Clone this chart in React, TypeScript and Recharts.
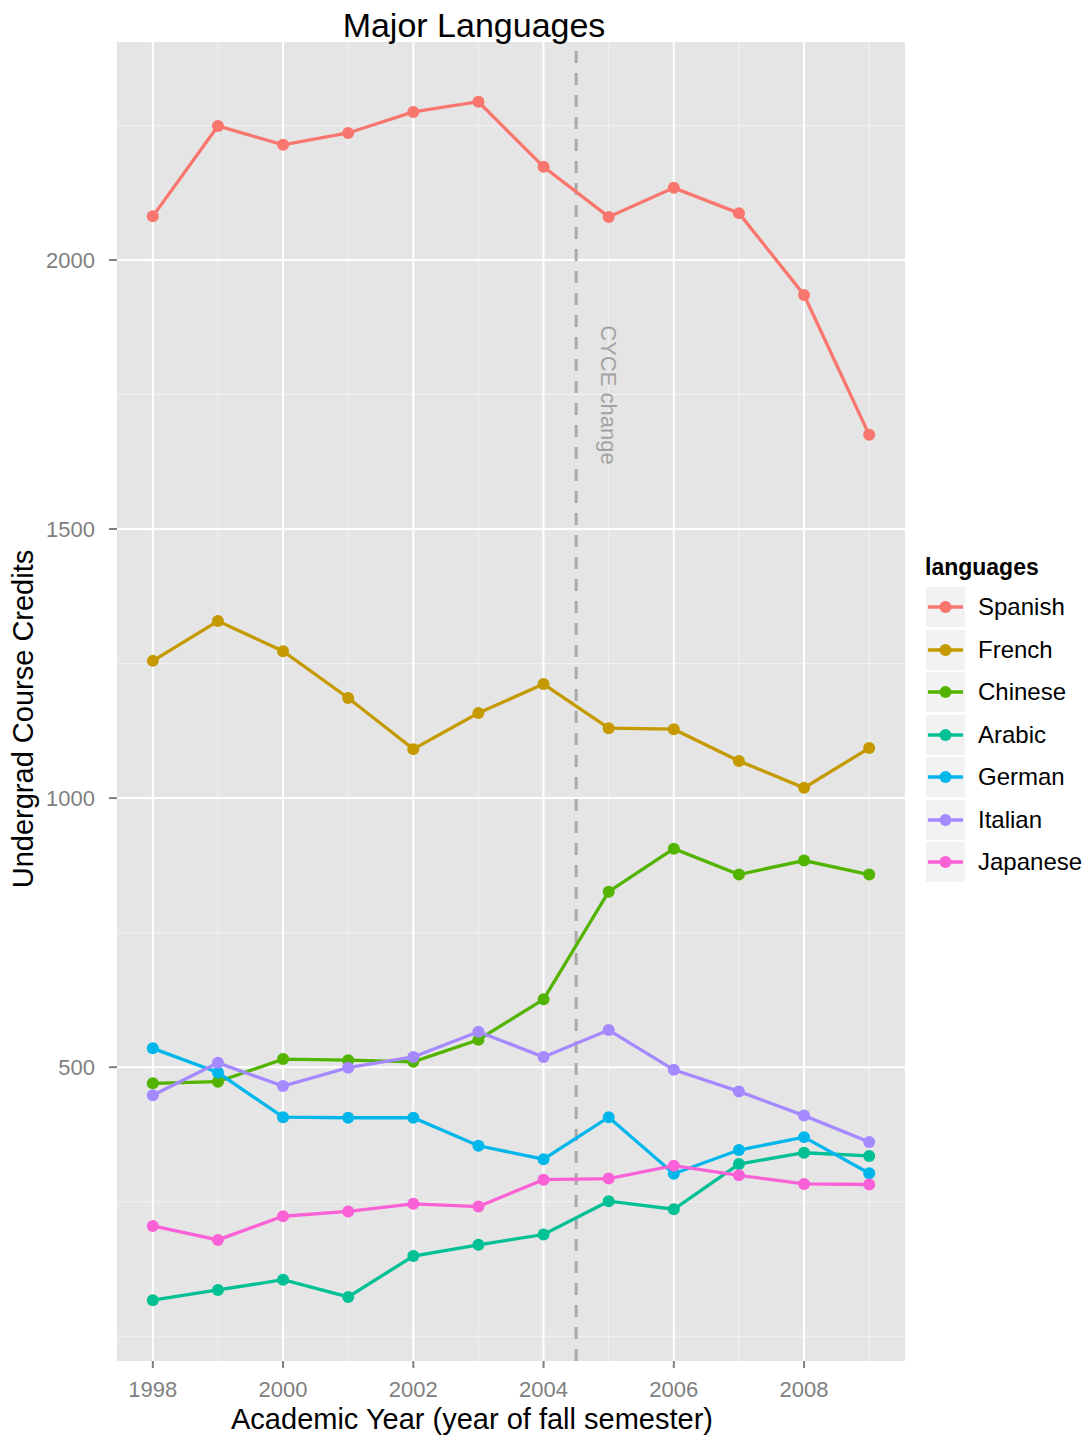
import React from 'react';
import { LineChart, Line, XAxis, YAxis, CartesianGrid, ReferenceLine } from 'recharts';

const years = [1998, 1999, 2000, 2001, 2002, 2003, 2004, 2005, 2006, 2007, 2008, 2009];
const spanish = [2081, 2249, 2214, 2236, 2275, 2294, 2173, 2080, 2134, 2087, 1935, 1675];
const french = [1255, 1329, 1273, 1186, 1091, 1158, 1212, 1130, 1128, 1069, 1019, 1093];
const chinese = [470, 473, 515, 513, 510, 551, 626, 826, 906, 858, 884, 858];
const arabic = [67, 86, 105, 73, 149, 170, 189, 251, 236, 320, 341, 335];
const german = [535, 490, 407, 406, 406, 354, 329, 407, 302, 346, 370, 303];
const italian = [448, 508, 465, 499, 519, 566, 519, 569, 495, 455, 410, 361];
const japanese = [205, 179, 223, 232, 246, 241, 291, 293, 317, 299, 283, 282];

const seriesNames = ['Spanish', 'French', 'Chinese', 'Arabic', 'German', 'Italian', 'Japanese'];
const seriesValues = [spanish, french, chinese, arabic, german, italian, japanese];
const seriesColors = ['#F8766D', '#C49A00', '#53B400', '#00C094', '#00B6EB', '#A58AFF', '#FB61D7'];

const xMajorTicks = [1998, 2000, 2002, 2004, 2006, 2008];
const xMinorTicks = [1999, 2001, 2003, 2005, 2007, 2009];
const yMajorTicks = [500, 1000, 1500, 2000];
const yMinorTicks = [0, 250, 750, 1250, 1750, 2250];
const xDomain = [1997.45, 2009.55];
const yDomain = [-46, 2405];
const cyceYear = 2004.5;

const data = years.map((y, i) => {
  const row: Record<string, number> = { year: y };
  seriesNames.forEach((n, k) => {
    row[n] = seriesValues[k][i];
  });
  return row;
});

const FONT = '"Liberation Sans", Arial, Helvetica, sans-serif';

const CyceLabel = (props: any) => {
  const vb = props.viewBox || {};
  const x = (vb.x || 0) + 32;
  const y = (vb.y || 0) + 353;
  return (
    <text
      transform={`translate(${x}, ${y}) rotate(90)`}
      textAnchor="middle"
      dominantBaseline="central"
      fill="#A3A3A3"
      fontSize={22}
      fontFamily={FONT}
    >
      CYCE change
    </text>
  );
};

export default function App() {
  return (
    <div style={{ position: 'absolute', left: 0, top: 0, width: 1089, height: 1438, background: '#fff', fontFamily: FONT }}>
      <LineChart
        width={1089}
        height={1438}
        data={data}
        margin={{ top: 42, right: 184, bottom: 0, left: 0 }}
      >
        <CartesianGrid fill="#E5E5E5" horizontal={false} vertical={false} />
        {yMinorTicks.map((v) => (
          <ReferenceLine key={'ym' + v} y={v} stroke="#F2F2F2" strokeWidth={1} />
        ))}
        {xMinorTicks.map((v) => (
          <ReferenceLine key={'xm' + v} x={v} stroke="#F2F2F2" strokeWidth={1} />
        ))}
        {yMajorTicks.map((v) => (
          <ReferenceLine key={'yM' + v} y={v} stroke="#FFFFFF" strokeWidth={2} />
        ))}
        {xMajorTicks.map((v) => (
          <ReferenceLine key={'xM' + v} x={v} stroke="#FFFFFF" strokeWidth={2} />
        ))}
        <ReferenceLine
          x={cyceYear}
          stroke="#A9A9A9"
          strokeWidth={3}
          strokeDasharray="12 10"
          label={<CyceLabel />}
        />
        <XAxis
          dataKey="year"
          type="number"
          domain={xDomain}
          ticks={xMajorTicks}
          allowDataOverflow
          axisLine={false}
          height={77}
          tickSize={7}
          tickMargin={13}
          tickLine={{ stroke: '#7F7F7F', strokeWidth: 2 }}
          tick={{ fill: '#7F7F7F', fontSize: 22, fontFamily: FONT }}
        />
        <YAxis
          type="number"
          domain={yDomain}
          ticks={yMajorTicks}
          allowDataOverflow
          axisLine={false}
          width={117}
          tickSize={8}
          tickMargin={14}
          tickLine={{ stroke: '#7F7F7F', strokeWidth: 2 }}
          tick={{ fill: '#7F7F7F', fontSize: 22, fontFamily: FONT }}
        />
        {seriesNames.map((n, k) => (
          <Line
            key={n}
            dataKey={n}
            type="linear"
            stroke={seriesColors[k]}
            strokeWidth={3.3}
            dot={{ r: 6, fill: seriesColors[k], stroke: seriesColors[k], strokeWidth: 0 }}
            activeDot={false}
            isAnimationActive={false}
          />
        ))}
      </LineChart>

      <div style={{ position: 'absolute', left: 0, width: 948, top: 5, textAlign: 'center', fontSize: 34, color: '#000', lineHeight: '40px' }}>
        Major Languages
      </div>
      <div style={{ position: 'absolute', left: 0, width: 944, top: 1402, textAlign: 'center', fontSize: 29, color: '#000', lineHeight: '34px' }}>
        Academic Year (year of fall semester)
      </div>
      <div
        style={{
          position: 'absolute',
          left: 23,
          top: 719,
          transform: 'translate(-50%, -50%) rotate(-90deg)',
          fontSize: 29,
          color: '#000',
          whiteSpace: 'nowrap',
          lineHeight: '34px',
        }}
      >
        Undergrad Course Credits
      </div>

      <div style={{ position: 'absolute', left: 925, top: 553, fontSize: 23, fontWeight: 'bold', color: '#000', lineHeight: '28px' }}>
        languages
      </div>
      {seriesNames.map((n, k) => (
        <div key={n} style={{ position: 'absolute', left: 926, top: 587 + k * 42.5, height: 40, display: 'flex', alignItems: 'center' }}>
          <svg width={39} height={40} style={{ display: 'block' }}>
            <rect x={0} y={0} width={39} height={40} fill="#F2F2F2" />
            <line x1={2} x2={37} y1={20} y2={20} stroke={seriesColors[k]} strokeWidth={3.3} />
            <circle cx={19.5} cy={20} r={6} fill={seriesColors[k]} />
          </svg>
          <span style={{ marginLeft: 13, fontSize: 24, color: '#000', whiteSpace: 'nowrap' }}>{n}</span>
        </div>
      ))}
    </div>
  );
}
